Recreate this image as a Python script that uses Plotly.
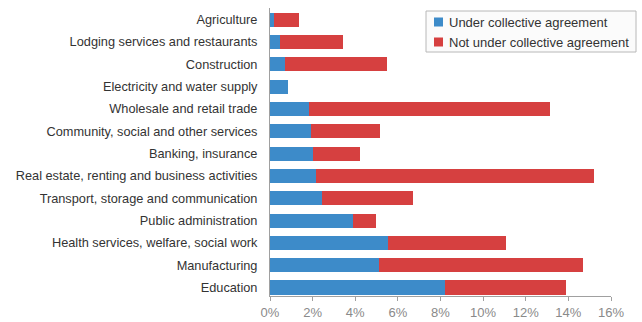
import plotly.graph_objects as go

# Sectors, listed top to bottom
sectors = [
    "Agriculture",
    "Lodging services and restaurants",
    "Construction",
    "Electricity and water supply",
    "Wholesale and retail trade",
    "Community, social and other services",
    "Banking, insurance",
    "Real estate, renting and business activities",
    "Transport, storage and communication",
    "Public administration",
    "Health services, welfare, social work",
    "Manufacturing",
    "Education",
]

# Share of employees (%)
under_agreement = [0.17, 0.45, 0.69, 0.84, 1.81, 1.92, 2.00, 2.14, 2.42, 3.88, 5.55, 5.10, 8.21]
not_under_agreement = [1.17, 2.96, 4.80, 0.00, 11.33, 3.24, 2.24, 13.05, 4.29, 1.09, 5.51, 9.59, 5.68]

series_names = ["Under collective agreement", "Not under collective agreement"]
series_colors = ["#3d8bc9", "#d64040"]

x_ticks = [0, 2, 4, 6, 8, 10, 12, 14, 16]
x_tick_labels = [f"{v}%" for v in x_ticks]

fig = go.Figure()
for name, vals, color in zip(series_names, [under_agreement, not_under_agreement], series_colors):
    fig.add_trace(go.Bar(
        y=sectors, x=vals, name=name, orientation="h",
        marker=dict(color=color, line=dict(width=0)),
        showlegend=False,
    ))

W, H = 642, 322
ml, mr, mt, mb = 270, 31, 8, 26

fig.update_layout(
    width=W, height=H,
    margin=dict(l=ml, r=mr, t=mt, b=mb, autoexpand=False),
    barmode="stack",
    bargap=0.37,
    plot_bgcolor="white",
    paper_bgcolor="white",
    font=dict(family="Liberation Sans, Arial, sans-serif", size=12.75, color="#333333"),
    xaxis=dict(
        range=[0, 16], tickvals=x_ticks, ticktext=x_tick_labels,
        showgrid=False, zeroline=False, automargin=False,
        showline=True, linecolor="#a0a0a0", linewidth=1,
        ticks="outside", ticklen=4, tickcolor="#a0a0a0",
        tickfont=dict(color="#8a8a8a", size=13),
    ),
    yaxis=dict(
        categoryorder="array", categoryarray=sectors[::-1],
        range=[-0.38, 12.52], automargin=False,
        showgrid=False, zeroline=False,
        showline=True, linecolor="#a0a0a0", linewidth=1,
        ticks="", ticklabelstandoff=9,
        tickfont=dict(color="#333333", size=12.75),
    ),
)

# Legend box in the upper right corner
pw = W - ml - mr
ph = H - mt - mb
def px_x(x):
    return (x - ml) / pw
def px_y(y):
    return 1 - (y - mt) / ph

fig.add_shape(type="rect", xref="paper", yref="paper",
              x0=px_x(426), x1=px_x(636), y0=px_y(52), y1=px_y(11),
              line=dict(color="#b8b8b8", width=1), fillcolor="#fbfbfb", layer="above")
for i, (name, color) in enumerate(zip(series_names, series_colors)):
    cy = 22 + 20 * i
    fig.add_shape(type="rect", xref="paper", yref="paper",
                  x0=px_x(434), x1=px_x(443), y0=px_y(cy + 4.5), y1=px_y(cy - 4.5),
                  line=dict(width=0), fillcolor=color, layer="above")
    fig.add_annotation(xref="paper", yref="paper", x=px_x(447), y=px_y(cy),
                       xanchor="left", yanchor="middle", text=name, showarrow=False,
                       font=dict(size=13, color="#333333"))

fig.write_html("out.html")
